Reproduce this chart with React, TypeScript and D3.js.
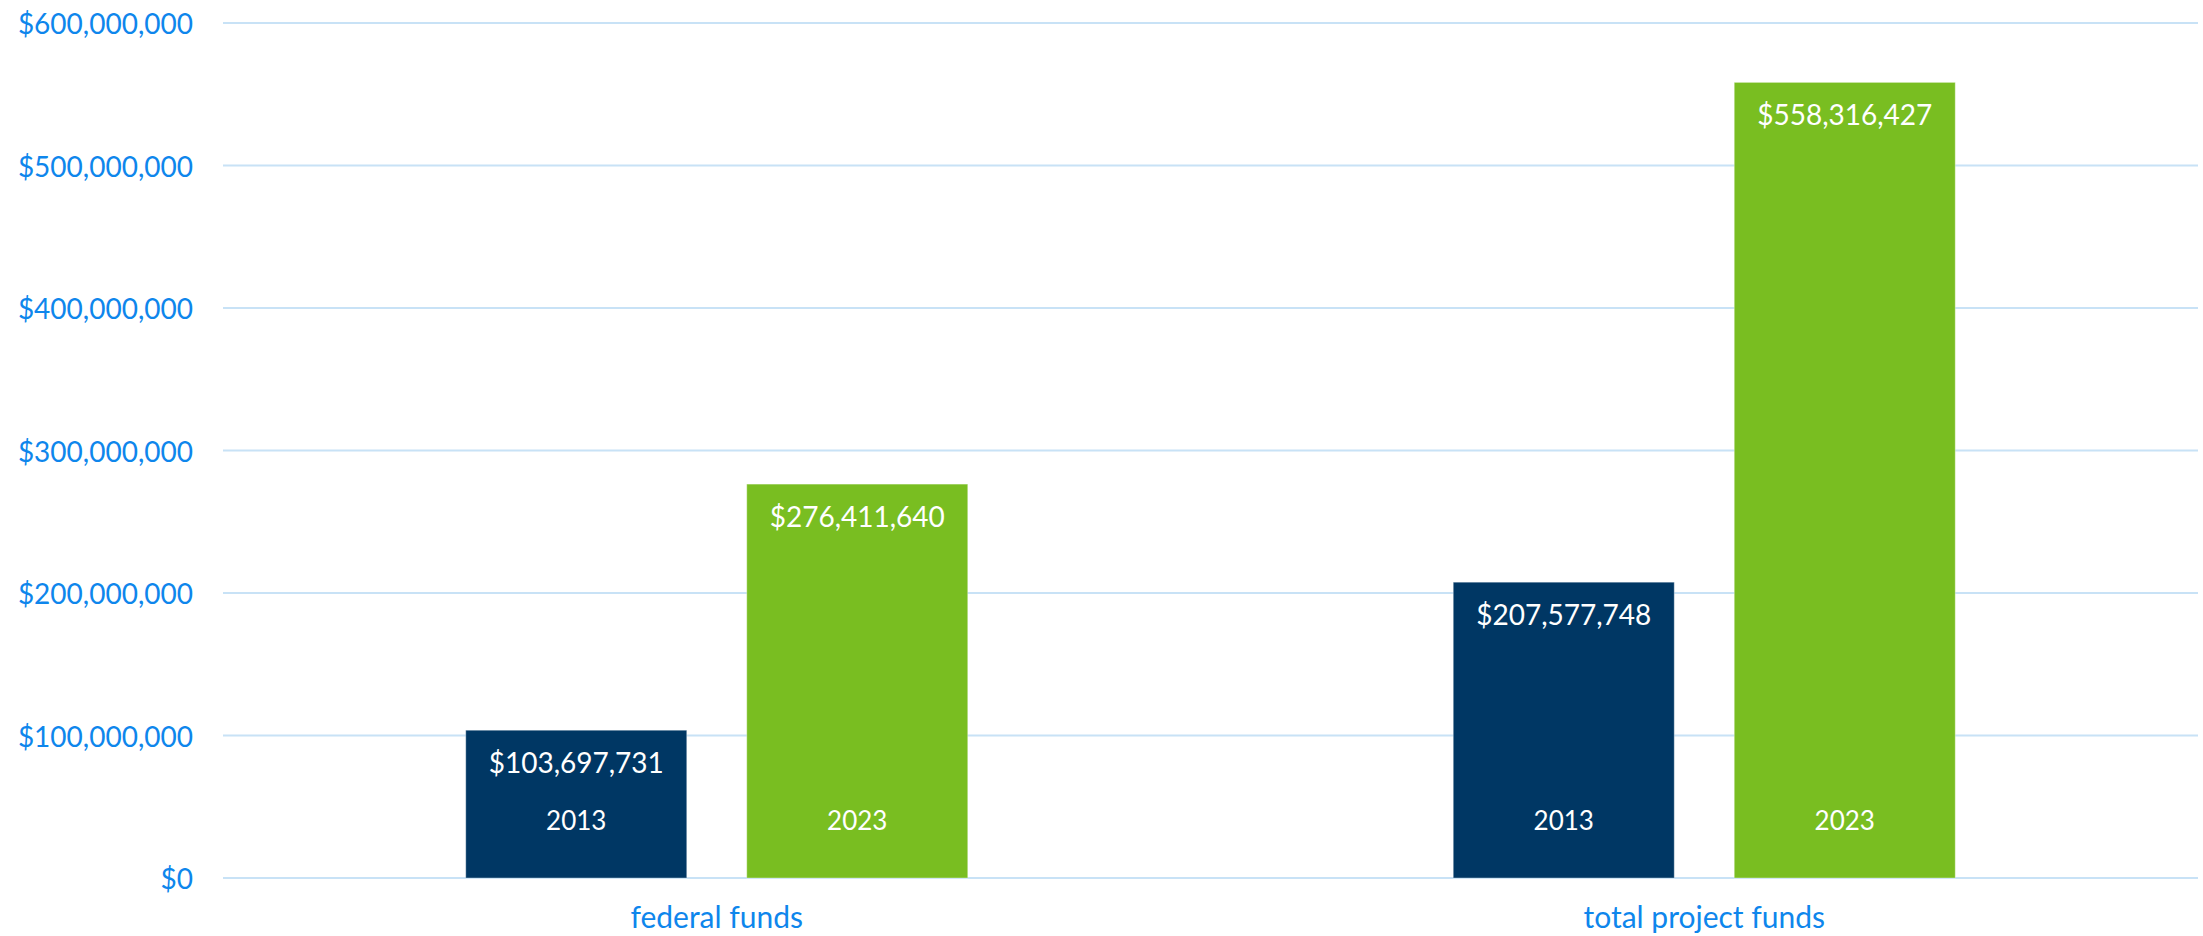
import React, { useEffect } from "react";
import * as d3 from "d3";

const categories = ["federal funds", "total project funds"];
const years = ["2013", "2023"];
const values2013 = [103697731, 207577748];
const values2023 = [276411640, 558316427];
const yTicks = [0, 100000000, 200000000, 300000000, 400000000, 500000000, 600000000];

const W = 2203;
const H = 936;
const FONT = "Lato, 'Open Sans', sans-serif";
const AXIS_COLOR = "#0E86EC";
const GRID_COLOR = "#C8E2F6";
const COLORS: Record<string, string> = { "2013": "#003764", "2023": "#79BE21" };

export default function App() {
  useEffect(() => {
    document.body.style.margin = "0";
  }, []);

  const plotLeft = 223;
  const plotRight = 2198;
  const groupWidth = 502;
  const y = d3.scaleLinear().domain([0, 600000000]).range([878, 23]);
  const x0 = d3.scaleBand<string>().domain(categories).range([plotLeft, plotRight]).padding(0);
  const x1 = d3.scaleBand<string>().domain(years).range([0, groupWidth]).paddingInner(0.2135).paddingOuter(0);
  const groupOffset = (x0.bandwidth() - groupWidth) / 2;
  const fmt = d3.format("$,.0f");

  const seriesByYear: Record<string, number[]> = { "2013": values2013, "2023": values2023 };

  return (
    <svg width={W} height={H} style={{ display: "block", background: "#fff" }} fontFamily={FONT}>
      {yTicks.map((t) => (
        <g key={t}>
          <line x1={plotLeft} x2={plotRight} y1={y(t)} y2={y(t)} stroke={GRID_COLOR} strokeWidth={2} />
          <text x={193} y={y(t)} textAnchor="end" dominantBaseline="central" fill={AXIS_COLOR} fontSize={28}>
            {fmt(t)}
          </text>
        </g>
      ))}
      {categories.map((c, ci) => (
        <g key={c} transform={`translate(${(x0(c) as number) + groupOffset},0)`}>
          {years.map((yr) => {
            const v = seriesByYear[yr][ci];
            const bx = x1(yr) as number;
            const bw = x1.bandwidth();
            return (
              <g key={yr}>
                <rect
                  x={bx}
                  y={y(v)}
                  width={bw}
                  height={y(0) - y(v)}
                  fill={COLORS[yr]}
                  stroke="rgba(255,255,255,0.35)"
                  strokeWidth={1}
                />
                <text
                  x={bx + bw / 2}
                  y={y(v) + 32}
                  textAnchor="middle"
                  dominantBaseline="central"
                  fill="#fff"
                  fontSize={28}
                >
                  {fmt(v)}
                </text>
                <text
                  x={bx + bw / 2}
                  y={820}
                  textAnchor="middle"
                  dominantBaseline="central"
                  fill="#fff"
                  fontSize={26}
                >
                  {yr}
                </text>
              </g>
            );
          })}
        </g>
      ))}
      {categories.map((c) => (
        <text
          key={c}
          x={(x0(c) as number) + x0.bandwidth() / 2}
          y={928}
          textAnchor="middle"
          fill={AXIS_COLOR}
          fontSize={30}
        >
          {c}
        </text>
      ))}
    </svg>
  );
}
